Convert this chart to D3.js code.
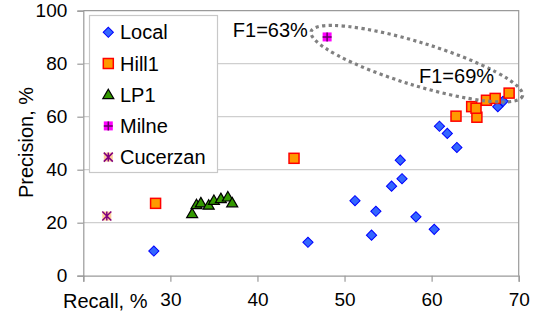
<!DOCTYPE html>
<html>
<head>
<meta charset="utf-8">
<script src="https://cdn.jsdelivr.net/npm/d3@7"></script>
<style>
  body { margin: 0; background: #fff; }
  text { font-family: "Liberation Sans", Arial, sans-serif; fill: #000; }
</style>
</head>
<body>
<script>
// Data: [recall, precision]
var localPts = [[28.1, 9.3], [45.8, 12.6], [53.1, 15.3], [60.3, 17.5], [58.2, 22.2],
                [53.6, 24.3], [51.2, 28.3], [55.4, 33.8], [56.6, 36.6], [56.4, 43.6],
                [62.9, 48.4], [61.8, 53.7], [60.9, 56.4], [67.6, 63.8], [68.2, 65.8]];
var hillPts = [[28.3, 27.3], [44.2, 44.3], [62.8, 60.2], [65.2, 59.8], [64.6, 63.8],
               [65.1, 63.2], [66.3, 66.2], [67.3, 66.9], [68.9, 68.9]];
var lpPts = [[32.5, 23.4], [33.0, 26.8], [33.5, 27.5], [34.4, 26.6], [35.0, 28.4],
             [35.8, 29.1], [36.6, 29.7], [37.1, 27.5]];
var milnePts = [[48.0, 90.1]];
var cucerzanPts = [[22.7, 22.5]];

var seriesNames = ["Local", "Hill1", "LP1", "Milne", "Cucerzan"];
var xTicks = [30, 40, 50, 60, 70];
var yTicks = [0, 20, 40, 60, 80, 100];

var svgWidth = 533, svgHeight = 318;
var margin = { top: 10.7, right: 14.3, bottom: 42.3, left: 83.3 };
var chartWidth = svgWidth - margin.left - margin.right;
var chartHeight = svgHeight - margin.top - margin.bottom;

var svg = d3.select("body").append("svg")
    .attr("width", svgWidth)
    .attr("height", svgHeight);

var chart = svg.append("g")
    .attr("transform", `translate(${margin.left},${margin.top})`);

var x = d3.scaleLinear().domain([20, 70]).range([0, chartWidth]);
var y = d3.scaleLinear().domain([0, 100]).range([chartHeight, 0]);

// gridlines
chart.selectAll(".grid").data(yTicks.filter(d => d > 0 && d < 100)).enter()
    .append("line")
    .attr("x1", 0).attr("x2", chartWidth)
    .attr("y1", d => y(d)).attr("y2", d => y(d))
    .attr("stroke", "#cfcfcf").attr("stroke-width", 1.2);

// plot border (top / right)
chart.append("path")
    .attr("d", `M0,0H${chartWidth}V${chartHeight}`)
    .attr("fill", "none").attr("stroke", "#9a9a9a").attr("stroke-width", 1.2);

// axes
var xAxis = chart.append("g")
    .attr("transform", `translate(0,${chartHeight})`)
    .call(d3.axisBottom(x).tickValues(d3.range(20, 71, 10)).tickSize(6).tickPadding(11)
          .tickFormat(d => xTicks.indexOf(d) >= 0 ? d : ""));
var yAxis = chart.append("g")
    .call(d3.axisLeft(y).tickValues(yTicks).tickSize(6).tickPadding(10));

[xAxis, yAxis].forEach(function(ax) {
  ax.select(".domain").attr("stroke", "#9a9a9a").attr("stroke-width", 1.2);
  ax.selectAll(".tick line").attr("stroke", "#9a9a9a").attr("stroke-width", 1.2);
  ax.selectAll("text").style("font-size", "19px")
    .style("font-family", "'Liberation Sans', Arial, sans-serif").attr("fill", "#000");
});

// markers
function drawMarker(g, name) {
  if (name === "Local") {
    g.append("path").attr("d", d3.symbol(d3.symbolSquare, 52)())
      .attr("transform", "rotate(45)")
      .attr("fill", "#3366ff").attr("stroke", "#0000ff").attr("stroke-width", 1);
  } else if (name === "Hill1") {
    g.append("rect").attr("x", -5).attr("y", -5).attr("width", 10).attr("height", 10)
      .attr("fill", "#ff9900").attr("stroke", "#ff0000").attr("stroke-width", 1.5);
  } else if (name === "LP1") {
    g.append("path").attr("d", "M0,-5.5L5.5,4L-5.5,4Z")
      .attr("fill", "#339900").attr("stroke", "#000").attr("stroke-width", 1.2);
  } else if (name === "Milne") {
    g.append("rect").attr("x", -4.5).attr("y", -4.5).attr("width", 9).attr("height", 9)
      .attr("fill", "#ff00ff");
    g.append("path").attr("d", "M-4.5,0H4.5M0,-4.5V4.5")
      .attr("stroke", "#660066").attr("stroke-width", 1.5);
  } else {
    g.append("rect").attr("x", -4.5).attr("y", -4.5).attr("width", 9).attr("height", 9)
      .attr("fill", "#ffcc99");
    g.append("path").attr("d", "M-4.5,-4.5L4.5,4.5M4.5,-4.5L-4.5,4.5M0,-4.5V4.5")
      .attr("stroke", "#800080").attr("stroke-width", 1.5);
  }
}

var seriesData = [localPts, hillPts, lpPts, milnePts, cucerzanPts];
// draw in an order close to the picture: LP1, Cucerzan, Milne, Local, Hill1
[2, 4, 3, 0, 1].forEach(function(i) {
  chart.selectAll(null).data(seriesData[i]).enter().append("g")
    .attr("transform", d => `translate(${x(d[0])},${y(d[1])})`)
    .each(function() { drawMarker(d3.select(this), seriesNames[i]); });
});

// dotted ellipse annotation (centre in data units)
var ellCenter = [58.3, 80.0];
chart.append("ellipse")
    .attr("cx", x(ellCenter[0])).attr("cy", y(ellCenter[1]))
    .attr("rx", 110.5).attr("ry", 21.5)
    .attr("transform", `rotate(17,${x(ellCenter[0])},${y(ellCenter[1])})`)
    .attr("fill", "none").attr("stroke", "#808080")
    .attr("stroke-width", 3.2).attr("stroke-dasharray", "3.2,3.4");

chart.append("text").attr("x", 149.5).attr("y", 26.5)
    .style("font-size", "20px").text("F1=63%");
chart.append("text").attr("x", 335.7).attr("y", 72.5)
    .style("font-size", "20px").text("F1=69%");

// legend
var legend = svg.append("g");
legend.append("rect").attr("x", 89.5).attr("y", 15.5).attr("width", 128).attr("height", 157)
    .attr("fill", "#fff").attr("stroke", "#c8c8c8").attr("stroke-width", 1.2);
seriesNames.forEach(function(name, i) {
  var cy = 32.3 + i * 31.2;
  var g = legend.append("g").attr("transform", `translate(108.3,${cy})`);
  drawMarker(g, name);
  legend.append("text").attr("x", 120).attr("y", cy + 7)
      .style("font-size", "20px").text(name);
});

// axis titles
svg.append("text").attr("x", 63).attr("y", 308)
    .style("font-size", "20px").text("Recall, %");
svg.append("text")
    .attr("transform", "translate(32.5,142.5) rotate(-90)")
    .attr("text-anchor", "middle")
    .style("font-size", "20px").text("Precision, %");
</script>
</body>
</html>
